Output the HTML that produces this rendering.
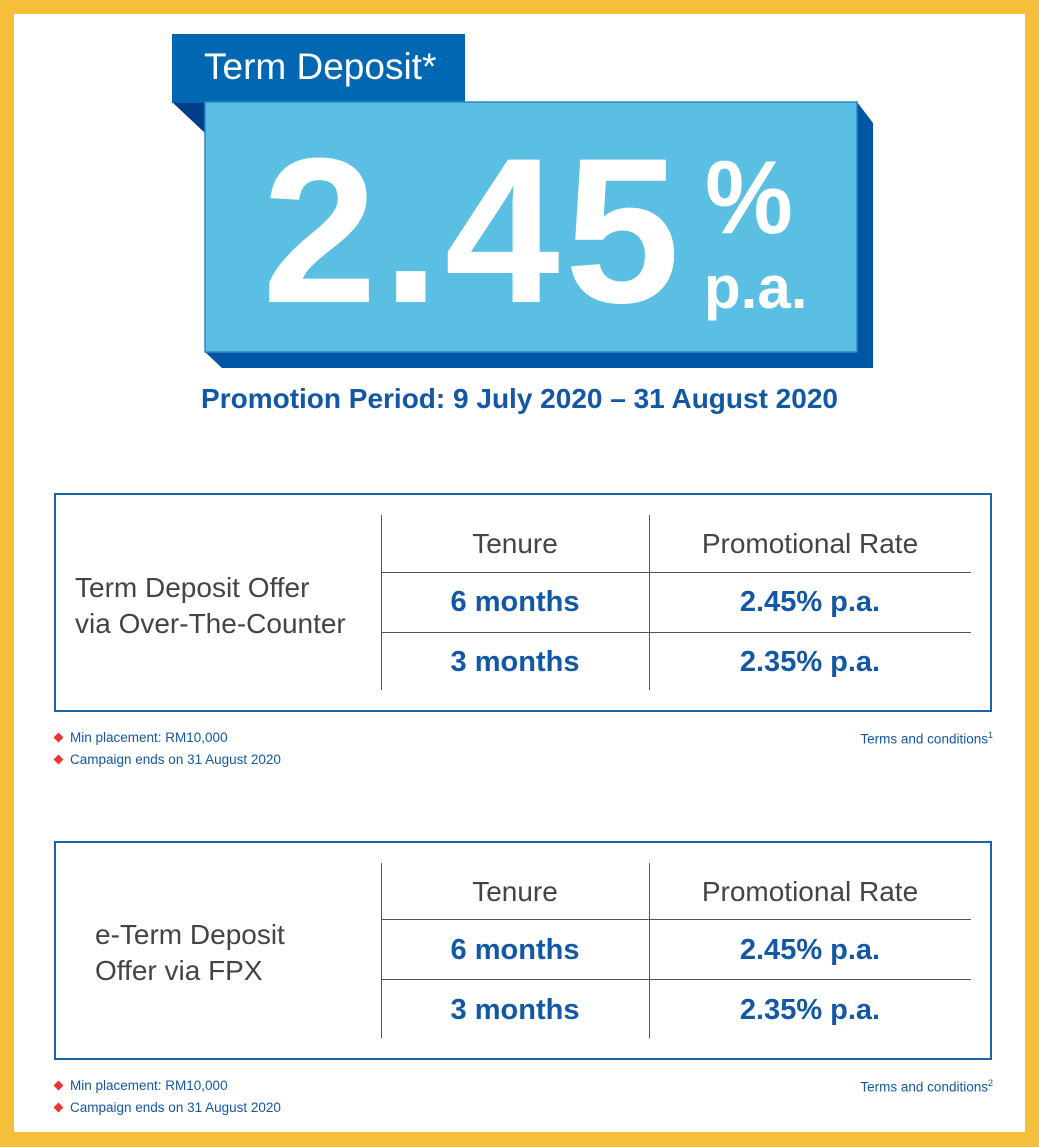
<!DOCTYPE html>
<html><head><meta charset="utf-8"><style>
*{margin:0;padding:0;box-sizing:border-box}
body{width:1039px;height:1147px;background:#f5bf3c;position:relative;overflow:hidden;font-family:"Liberation Sans",sans-serif}
.w{position:absolute;left:14px;top:14px;width:1011px;height:1118px;background:#fff}
.a{position:absolute}
.t{position:absolute;white-space:nowrap}
.box{position:absolute;left:54px;width:938px;height:219px;border:2px solid #1b63a9}
.vl{position:absolute;width:1px;background:#555;}
.hl{position:absolute;height:1px;background:#555;}
.h{color:#444;font-size:28px;text-align:center}
.v{color:#1258a6;font-size:29px;font-weight:bold;text-align:center}
.n{font-size:13.5px;color:#1258a6}
.d{display:inline-block;width:7px;height:7px;background:#e8352f;transform:rotate(45deg);margin-right:8px;position:relative;top:-1px}
</style></head><body>
<div class="w"></div>
<svg class="a" style="left:0;top:0" width="1039" height="400">
<polygon points="172,102 205,102 205,133" fill="#003f87"/>
<polygon points="857,102 873,123 873,368 222,368 205,352 857,352" fill="#0055a4"/>
<rect x="172" y="34" width="293" height="69" fill="#0068b3"/>
<rect x="205" y="102" width="652" height="250" fill="#5bbfe4" stroke="#2f85c6" stroke-width="1.5"/>
</svg>
<div class="t" style="left:204px;top:46px;color:#fff;font-size:37px">Term Deposit*</div>
<div class="t" style="left:262px;top:127px;color:#fff;font-size:207px;font-weight:bold;letter-spacing:5px;line-height:1">2.45</div>
<div class="t" style="left:705px;top:146px;color:#fff;font-size:104px;font-weight:bold;line-height:1;transform:scaleX(0.95);transform-origin:left">%</div>
<div class="t" style="left:704px;top:258px;color:#fff;font-size:60px;font-weight:bold;line-height:1">p.a.</div>
<div class="t" style="left:0;width:1039px;top:383px;text-align:center;color:#1258a6;font-size:28px;font-weight:bold">Promotion Period: 9 July 2020 – 31 August 2020</div>

<div class="box" style="top:493px"></div>
<div class="vl" style="left:381px;top:515px;height:175px"></div>
<div class="vl" style="left:649px;top:515px;height:175px"></div>
<div class="hl" style="left:381px;top:572px;width:590px"></div>
<div class="hl" style="left:381px;top:632px;width:590px"></div>
<div class="t" style="left:75px;top:570px;color:#444;font-size:28px;line-height:36px">Term Deposit Offer<br>via Over-The-Counter</div>
<div class="t h" style="left:381px;width:268px;top:528px">Tenure</div>
<div class="t h" style="left:649px;width:322px;top:528px">Promotional Rate</div>
<div class="t v" style="left:381px;width:268px;top:586px">6 months</div>
<div class="t v" style="left:649px;width:322px;top:586px">2.45% p.a.</div>
<div class="t v" style="left:381px;width:268px;top:646px">3 months</div>
<div class="t v" style="left:649px;width:322px;top:646px">2.35% p.a.</div>
<div class="t n" style="left:55px;top:730px"><span class="d"></span>Min placement: RM10,000</div>
<div class="t n" style="left:55px;top:752px"><span class="d"></span>Campaign ends on 31 August 2020</div>
<div class="t n" style="right:46px;top:730px">Terms and conditions<sup style="font-size:9px">1</sup></div>

<div class="box" style="top:841px"></div>
<div class="vl" style="left:381px;top:863px;height:175px"></div>
<div class="vl" style="left:649px;top:863px;height:175px"></div>
<div class="hl" style="left:381px;top:919px;width:590px"></div>
<div class="hl" style="left:381px;top:979px;width:590px"></div>
<div class="t" style="left:95px;top:917px;color:#444;font-size:28px;line-height:36px">e-Term Deposit<br>Offer via FPX</div>
<div class="t h" style="left:381px;width:268px;top:876px">Tenure</div>
<div class="t h" style="left:649px;width:322px;top:876px">Promotional Rate</div>
<div class="t v" style="left:381px;width:268px;top:934px">6 months</div>
<div class="t v" style="left:649px;width:322px;top:934px">2.45% p.a.</div>
<div class="t v" style="left:381px;width:268px;top:994px">3 months</div>
<div class="t v" style="left:649px;width:322px;top:994px">2.35% p.a.</div>
<div class="t n" style="left:55px;top:1078px"><span class="d"></span>Min placement: RM10,000</div>
<div class="t n" style="left:55px;top:1100px"><span class="d"></span>Campaign ends on 31 August 2020</div>
<div class="t n" style="right:46px;top:1078px">Terms and conditions<sup style="font-size:9px">2</sup></div>
</body></html>
